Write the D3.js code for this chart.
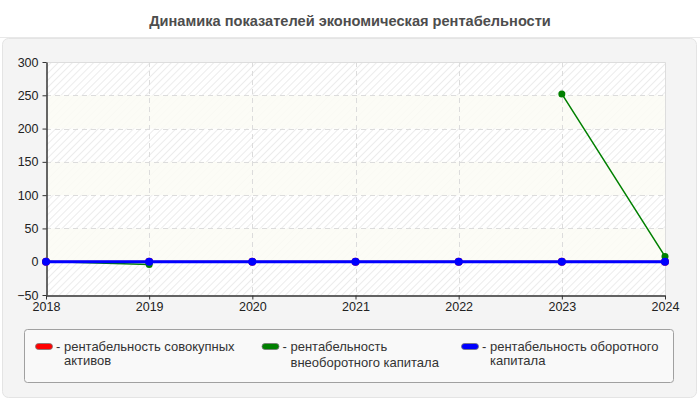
<!DOCTYPE html>
<html><head><meta charset="utf-8">
<script src="https://cdn.jsdelivr.net/npm/d3@7/dist/d3.min.js"></script>
<style>body{margin:0;background:#fff;}svg{display:block;font-family:"Liberation Sans",Arial,sans-serif;}</style>
</head><body>
<svg id="c" width="700" height="400"></svg>
<script>
const years = [2018, 2019, 2020, 2021, 2022, 2023, 2024];
const yTicks = [-50, 0, 50, 100, 150, 200, 250, 300];
const seriesNames = ["рентабельность совокупных активов", "рентабельность внеоборотного капитала", "рентабельность оборотного капитала"];
const seriesColors = ["#ff0000", "#008000", "#0000ff"];
const redValues = [0, 0, 0, 0, 0, 0, 0];
const greenValues = [0.5, -4, null, null, null, 252, 8];
const blueValues = [0, 0, 0, 0, 0, 0, 0];
const legendLines = [["рентабельность совокупных", "активов"], ["рентабельность", "внеоборотного капитала"], ["рентабельность оборотного", "капитала"]];

const svg = d3.select("#c");
const m = {l: 46, r: 665, t: 62, b: 295};

// title
svg.append("text").attr("x", 350).attr("y", 26).attr("text-anchor", "middle")
  .attr("font-size", 14.6).attr("font-weight", "bold").attr("fill", "#4d4d4d")
  .text("Динамика показателей экономическая рентабельности");
svg.append("line").attr("x1", 0).attr("x2", 700).attr("y1", 37.5).attr("y2", 37.5).attr("stroke", "#e8e8e8");

// outer panel
svg.append("rect").attr("x", 2.5).attr("y", 38.5).attr("width", 694).attr("height", 359).attr("rx", 6)
  .attr("fill", "#f4f4f4").attr("stroke", "#e4e4e4");

const defs = svg.append("defs");
const pat = defs.append("pattern").attr("id", "hatch").attr("patternUnits", "userSpaceOnUse")
  .attr("width", 5).attr("height", 5).attr("patternTransform", "rotate(45)");
pat.append("rect").attr("width", 5).attr("height", 5).attr("fill", "#ffffff");
pat.append("line").attr("x1", 0).attr("y1", 0).attr("x2", 0).attr("y2", 5).attr("stroke", "#ececec").attr("stroke-width", 2);

const x = d3.scaleLinear().domain([2018, 2024]).range([m.l, m.r]);
const y = d3.scaleLinear().domain([-50, 300]).range([m.b, m.t]);

// plot background
svg.append("rect").attr("x", m.l).attr("y", m.t).attr("width", m.r - m.l).attr("height", m.b - m.t).attr("fill", "url(#hatch)");
// alternating bands
for (let i = 0; i < yTicks.length - 1; i++) {
  if (i % 2 === 1) {
    svg.append("rect").attr("x", m.l).attr("width", m.r - m.l)
      .attr("y", y(yTicks[i + 1])).attr("height", y(yTicks[i]) - y(yTicks[i + 1]))
      .attr("fill", "#fcfcf4").attr("opacity", 0.85);
  }
}

// grid
const grid = svg.append("g").attr("stroke", "#dcdcdc").attr("stroke-dasharray", "5,4");
grid.selectAll(".gy").data(yTicks.filter(v => v > -50 && v < 300)).join("line")
  .attr("x1", m.l).attr("x2", m.r).attr("y1", d => Math.round(y(d)) + 0.5).attr("y2", d => Math.round(y(d)) + 0.5);
grid.selectAll(".gx").data(years.filter(v => v > 2018 && v < 2024)).join("line")
  .attr("y1", m.t).attr("y2", m.b).attr("x1", d => Math.round(x(d)) + 0.5).attr("x2", d => Math.round(x(d)) + 0.5);

// top/right border
svg.append("path").attr("d", `M${m.l},${m.t + 0.5}H${m.r + 0.5}V${m.b}`).attr("fill", "none").attr("stroke", "#dddddd");

// axes
const yAxis = svg.append("g").attr("transform", `translate(${m.l + 0.5},0)`)
  .call(d3.axisLeft(y).tickValues(yTicks).tickSize(4).tickPadding(4).tickSizeOuter(0));
const xAxis = svg.append("g").attr("transform", `translate(0,${m.b + 0.5})`)
  .call(d3.axisBottom(x).tickValues(years).tickFormat(d3.format("d")).tickSize(4).tickPadding(3).tickSizeOuter(0));
[yAxis, xAxis].forEach(a => {
  a.select(".domain").attr("stroke", "#333").attr("stroke-width", 1.5);
  a.selectAll(".tick line").attr("stroke", "#333");
  a.selectAll("text").attr("font-size", 12.5).attr("fill", "#222").attr("font-family", "'Liberation Sans',Arial,sans-serif");
});

// series
const allSeries = [redValues, greenValues, blueValues];
const widths = [2, 1.5, 3];
const radii = [4, 3.5, 4];
allSeries.forEach((vals, si) => {
  const pts = years.map((yr, i) => ({yr, v: vals[i]}));
  const line = d3.line().defined(d => d.v !== null).x(d => x(d.yr)).y(d => y(d.v));
  svg.append("path").datum(pts).attr("d", line).attr("fill", "none")
    .attr("stroke", seriesColors[si]).attr("stroke-width", widths[si]);
  svg.selectAll(".pt" + si).data(pts.filter(d => d.v !== null)).join("circle")
    .attr("cx", d => x(d.yr)).attr("cy", d => y(d.v)).attr("r", radii[si]).attr("fill", seriesColors[si]);
});

// legend
svg.append("rect").attr("x", 24.5).attr("y", 329.5).attr("width", 649).attr("height", 53).attr("rx", 3)
  .attr("fill", "#f9f9f9").attr("stroke", "#a0a0a0");
const legX = [35, 261.5, 461];
const line2Y = [365, 367, 365];
seriesNames.forEach((name, i) => {
  const g = svg.append("g");
  g.append("rect").attr("x", legX[i] + 0.5).attr("y", 343.5).attr("width", 17).attr("height", 6).attr("rx", 3)
    .attr("fill", seriesColors[i]).attr("stroke", "#777").attr("stroke-width", 0.8);
  g.append("text").attr("x", legX[i] + 21).attr("y", 350.5).attr("font-size", 13).attr("fill", "#333")
    .text("- " + legendLines[i][0]);
  g.append("text").attr("x", legX[i] + 29).attr("y", line2Y[i]).attr("font-size", 13).attr("fill", "#333")
    .text(legendLines[i][1]);
});
</script>
</body></html>
